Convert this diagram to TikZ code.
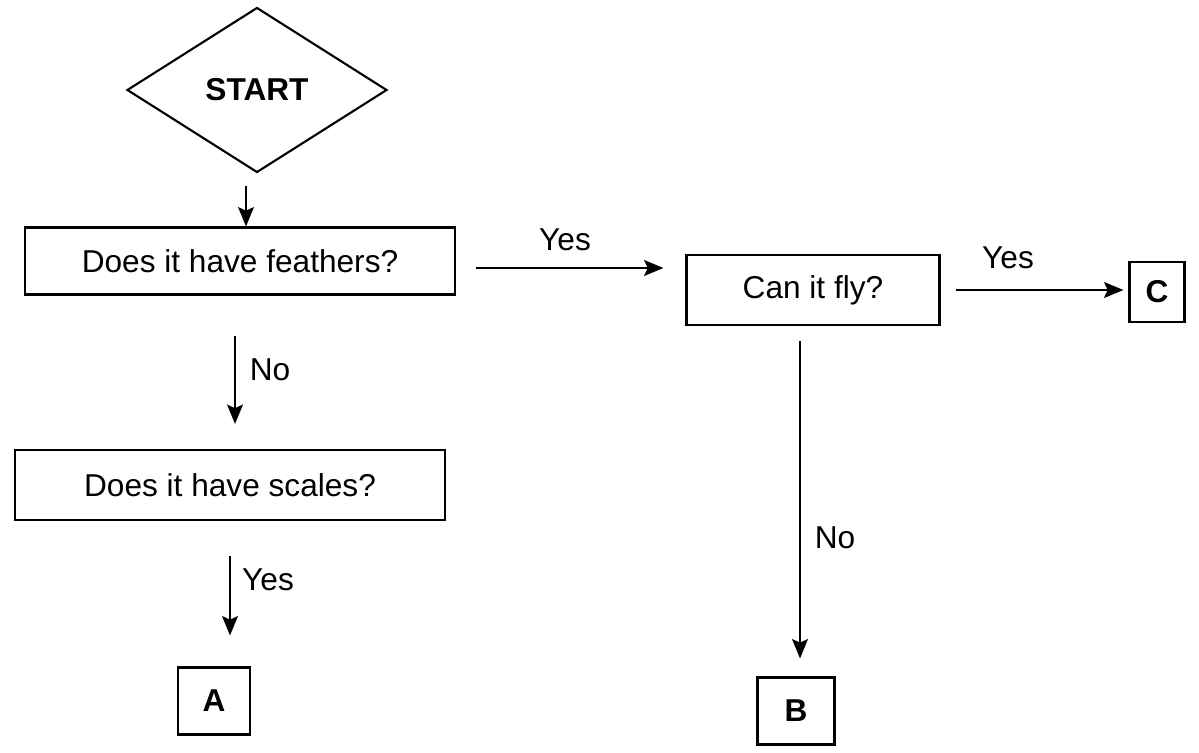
\documentclass[tikz,border=0pt]{standalone}
\usepackage{fontspec}
\setmainfont{Liberation Sans}
\usetikzlibrary{shapes.geometric,arrows.meta}

\begin{document}
\begin{tikzpicture}[x=0.02cm, y=-0.02cm,
                    arrow/.style = {very thick,-{Stealth[length=11pt,width=9pt,inset=2pt]}},
                    box/.style = {draw, very thick, inner sep=0pt},
                    letter/.style = {box, minimum width=1.45cm, minimum height=1.34cm, font=\fontsize{18}{21}\selectfont\bfseries},
                    every node/.style = {font=\fontsize{18}{21}\selectfont}]
                    \useasboundingbox (0,0) rectangle (1199,753);

                    \node [diamond, draw, very thick, aspect=1.6, minimum width=5.2cm, minimum height=3.3cm, font=\fontsize{18}{21}\selectfont\bfseries] (start) at (257,90) {START};

                    \node [box, minimum width=8.6cm, minimum height=1.34cm] (feathers) at (240,261) {Does it have feathers?};
                    \node [box, minimum width=8.6cm, minimum height=1.4cm] (scales) at (230,485) {Does it have scales?};
                    \node [box, minimum width=5.06cm, minimum height=1.4cm] (fly) at (813,290) {Can it fly?};

                    \node [letter, minimum width=1.1cm, minimum height=1.2cm] (C) at (1157,292) {C};
                    \node [letter] (A) at (214,701) {A};
                    \node [letter, minimum width=1.54cm] (B) at (796,711) {B};

                    \node (yesfly) at (565,240) {Yes};
                    \node (yesC) at (1008,258) {Yes};
                    \node (nofeathers) at (270,370) {No};
                    \node (yesscales) at (268,580) {Yes};
                    \node (nofly) at (835,538) {No};

                    \draw[arrow, shorten <=0.24cm] ([xshift=-0.22cm]start.south) -- ([xshift=-0.22cm]start.south |- feathers.north);
                    \draw[arrow, shorten <=0.8cm, shorten >=0.5cm] ([xshift=-0.1cm]feathers.south) -- ([xshift=-0.1cm]feathers.south |- scales.north);
                    \draw[arrow, shorten <=0.7cm, shorten >=0.62cm] (scales.south) -- (scales.south |- A.north);
                    \draw[arrow, shorten <=0.4cm, shorten >=0.44cm] ([yshift=-0.14cm]feathers.east) -- ([yshift=-0.14cm]feathers.east -| fly.west);
                    \draw[arrow, shorten <=0.3cm, shorten >=0.1cm] (fly.east) -- (fly.east -| C.west);
                    \draw[arrow, shorten <=0.3cm, shorten >=0.36cm] ([xshift=-0.26cm]fly.south) -- ([xshift=-0.26cm]fly.south |- B.north);
                \end{tikzpicture}
\end{document}
